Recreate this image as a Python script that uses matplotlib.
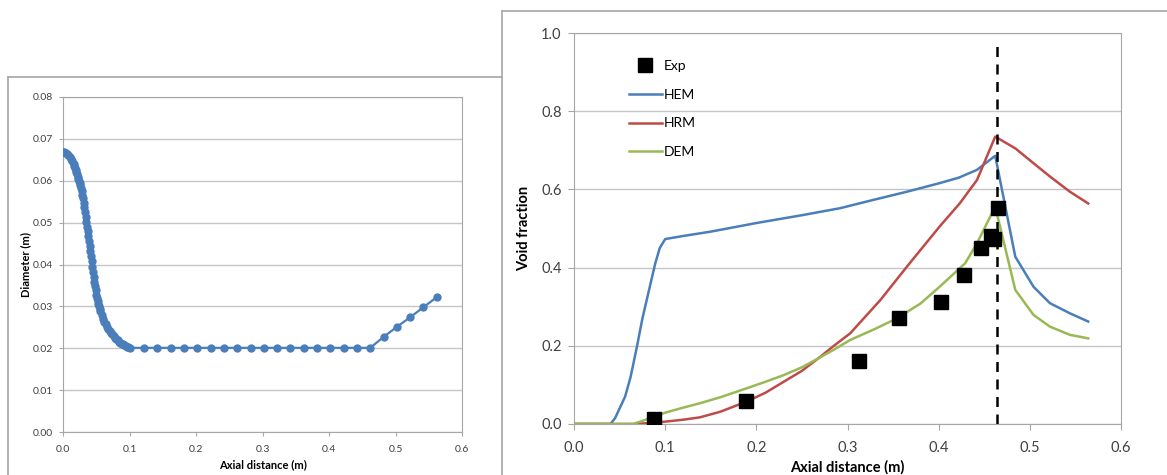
import matplotlib.pyplot as plt
from matplotlib.lines import Line2D

plt.rcParams['font.family'] = ['Lato', 'DejaVu Sans']

# left chart: nozzle diameter profile
dia_x = [0.000, 0.002, 0.004, 0.006, 0.008, 0.010, 0.012, 0.014, 0.016, 0.017,
         0.018, 0.019, 0.020, 0.021, 0.022, 0.023, 0.024, 0.025, 0.026, 0.027,
         0.028, 0.029, 0.030, 0.031, 0.032, 0.033, 0.034, 0.035, 0.036, 0.037,
         0.038, 0.039, 0.040, 0.041, 0.042, 0.043, 0.044, 0.045, 0.046, 0.047,
         0.048, 0.049, 0.050, 0.051, 0.052, 0.053, 0.054, 0.055, 0.056, 0.058,
         0.060, 0.062, 0.064, 0.066, 0.068, 0.070, 0.072, 0.074, 0.076, 0.078,
         0.080, 0.082, 0.084, 0.086, 0.088, 0.090, 0.092, 0.094, 0.096, 0.098,
         0.100, 0.122, 0.142, 0.162, 0.182, 0.202, 0.222, 0.242, 0.262, 0.282,
         0.302, 0.322, 0.342, 0.362, 0.382, 0.402, 0.422, 0.442, 0.462, 0.482,
         0.502, 0.522, 0.542, 0.562]
dia_y = [0.0668, 0.0668, 0.0666, 0.0664, 0.0661, 0.0657, 0.0652, 0.0646, 0.0639, 0.0635,
         0.0630, 0.0625, 0.0620, 0.0615, 0.0610, 0.0605, 0.0600, 0.0595, 0.0590, 0.0583,
         0.0575, 0.0567, 0.0558, 0.0548, 0.0537, 0.0525, 0.0513, 0.0502, 0.0490, 0.0479,
         0.0467, 0.0456, 0.0445, 0.0433, 0.0420, 0.0408, 0.0395, 0.0383, 0.0370, 0.0359,
         0.0348, 0.0338, 0.0328, 0.0320, 0.0313, 0.0306, 0.0300, 0.0294, 0.0289, 0.0279,
         0.0270, 0.0263, 0.0257, 0.0251, 0.0246, 0.0241, 0.0237, 0.0233, 0.0229, 0.0225,
         0.0222, 0.0219, 0.0216, 0.0213, 0.0211, 0.0209, 0.0207, 0.0205, 0.0203, 0.0202,
         0.0201, 0.0201, 0.0201, 0.0201, 0.0201, 0.0201, 0.0201, 0.0201, 0.0201, 0.0201,
         0.0201, 0.0201, 0.0201, 0.0201, 0.0201, 0.0201, 0.0201, 0.0201, 0.0201, 0.0227,
         0.0251, 0.0274, 0.0298, 0.0322]

# right chart: void fraction
exp_x = [0.088, 0.189, 0.313, 0.356, 0.402, 0.428, 0.446, 0.457, 0.461, 0.465]
exp_y = [0.013, 0.060, 0.161, 0.270, 0.311, 0.380, 0.451, 0.481, 0.474, 0.553]

hem_x = [0.0, 0.030, 0.040, 0.045, 0.050, 0.056, 0.062, 0.069, 0.075, 0.080, 0.085,
         0.089, 0.094, 0.100, 0.120, 0.150, 0.175, 0.200, 0.250, 0.292, 0.328,
         0.365, 0.401, 0.422, 0.442, 0.462, 0.484, 0.504, 0.522, 0.544, 0.564]
hem_y = [0.0, 0.0, 0.0, 0.015, 0.040, 0.070, 0.120, 0.198, 0.270, 0.320, 0.370,
         0.410, 0.450, 0.473, 0.481, 0.492, 0.503, 0.514, 0.534, 0.552, 0.573,
         0.594, 0.616, 0.630, 0.650, 0.686, 0.428, 0.351, 0.309, 0.283, 0.262]

hrm_x = [0.0, 0.065, 0.080, 0.100, 0.120, 0.138, 0.160, 0.189, 0.210, 0.230, 0.250,
         0.268, 0.285, 0.303, 0.336, 0.365, 0.401, 0.423, 0.442, 0.462, 0.484,
         0.504, 0.522, 0.544, 0.564]
hrm_y = [0.0, 0.0, 0.002, 0.006, 0.011, 0.017, 0.031, 0.057, 0.080, 0.108, 0.136,
         0.168, 0.200, 0.232, 0.317, 0.402, 0.505, 0.564, 0.624, 0.735, 0.705,
         0.667, 0.633, 0.594, 0.564]

dem_x = [0.0, 0.065, 0.080, 0.100, 0.120, 0.138, 0.160, 0.189, 0.210, 0.230, 0.250,
         0.268, 0.285, 0.303, 0.330, 0.354, 0.380, 0.401, 0.429, 0.442, 0.462,
         0.484, 0.504, 0.522, 0.544, 0.564]
dem_y = [0.0, 0.0, 0.012, 0.029, 0.042, 0.053, 0.068, 0.091, 0.108, 0.125, 0.145,
         0.168, 0.190, 0.215, 0.243, 0.270, 0.308, 0.351, 0.411, 0.462, 0.556,
         0.343, 0.279, 0.249, 0.228, 0.219]

throat_x = 0.464

blue = '#4A7EBB'
red = '#BE4B48'
green = '#98B954'
grid_c = '#c6c6c6'
spine_c = '#a6a6a6'
tick_c = '#404040'

fig = plt.figure(figsize=(11.67, 4.75), dpi=100)

# panel frames
fig.add_artist(Line2D([0.0069, 0.4302], [0.8379, 0.8379], color=spine_c, lw=1.2))
fig.add_artist(Line2D([0.0069, 0.0069], [0.0, 0.8379], color=spine_c, lw=1.2))
fig.add_artist(Line2D([0.4302, 1.0], [0.9768, 0.9768], color=spine_c, lw=1.2))
fig.add_artist(Line2D([0.4302, 0.4302], [0.0, 0.9768], color=spine_c, lw=1.2))

# left chart
ax1 = fig.add_axes([0.054, 0.0905, 0.3419, 0.7053])
ax1.plot(dia_x, dia_y, color=blue, lw=1.6, marker='o', markersize=5, zorder=3)
ax1.set_xlim(0, 0.6)
ax1.set_ylim(0, 0.08)
ax1.set_xticks([0.0, 0.1, 0.2, 0.3, 0.4, 0.5, 0.6])
ax1.set_xticklabels(['0.0', '0.1', '0.2', '0.3', '0.4', '0.5', '0.6'])
ax1.set_yticks([0.0, 0.01, 0.02, 0.03, 0.04, 0.05, 0.06, 0.07, 0.08])
ax1.set_yticklabels(['0.00', '0.01', '0.02', '0.03', '0.04', '0.05', '0.06', '0.07', '0.08'])
ax1.grid(axis='y', color=grid_c, lw=1)
ax1.set_axisbelow(True)
for s in ax1.spines.values():
    s.set_color(spine_c)
ax1.tick_params(axis='x', labelsize=7.5, colors=tick_c, length=3, color=spine_c, pad=6)
ax1.tick_params(axis='y', labelsize=7.5, colors=tick_c, length=3, color=spine_c, pad=4)
ax1.set_xlabel('Axial distance (m)', fontsize=8, fontweight='bold', labelpad=4)
ax1.set_ylabel('Diameter (m)', fontsize=8, fontweight='bold', labelpad=1)

# right chart
ax2 = fig.add_axes([0.4919, 0.1074, 0.4687, 0.8231])
ax2.plot(hem_x, hem_y, color=blue, lw=1.8, label='HEM', zorder=3)
ax2.plot(hrm_x, hrm_y, color=red, lw=1.8, label='HRM', zorder=3)
ax2.plot(dem_x, dem_y, color=green, lw=1.8, label='DEM', zorder=3)
ax2.plot(exp_x, exp_y, linestyle='none', marker='s', color='black', markersize=10,
         label='Exp', zorder=4)
ax2.axvline(throat_x, ymin=0, ymax=0.98, color='black', lw=1.8, ls=(0, (4, 3)), zorder=5)
ax2.set_xlim(0, 0.6)
ax2.set_ylim(0, 1.0)
ax2.set_xticks([0.0, 0.1, 0.2, 0.3, 0.4, 0.5, 0.6])
ax2.set_xticklabels(['0.0', '0.1', '0.2', '0.3', '0.4', '0.5', '0.6'])
ax2.set_yticks([0.0, 0.2, 0.4, 0.6, 0.8, 1.0])
ax2.set_yticklabels(['0.0', '0.2', '0.4', '0.6', '0.8', '1.0'])
ax2.grid(axis='y', color=grid_c, lw=1)
ax2.set_axisbelow(True)
for s in ax2.spines.values():
    s.set_color(spine_c)
ax2.tick_params(axis='y', labelsize=10.5, colors=tick_c, length=4, color=spine_c, pad=5)
ax2.tick_params(axis='x', labelsize=10.5, colors=tick_c, length=4, color=spine_c, pad=8)
ax2.set_xlabel('Axial distance (m)', fontsize=10.5, fontweight='bold', labelpad=4)
ax2.set_ylabel('Void fraction', fontsize=10.5, fontweight='bold', labelpad=7)

h, l = ax2.get_legend_handles_labels()
order = [3, 0, 1, 2]
ax2.legend([h[i] for i in order], [l[i] for i in order], loc='upper left',
           bbox_to_anchor=(0.09, 0.945), frameon=False, fontsize=10,
           handlelength=2.4, handletextpad=0.15, labelspacing=1.2, borderaxespad=0)

fig.savefig('out.png', dpi=100)
